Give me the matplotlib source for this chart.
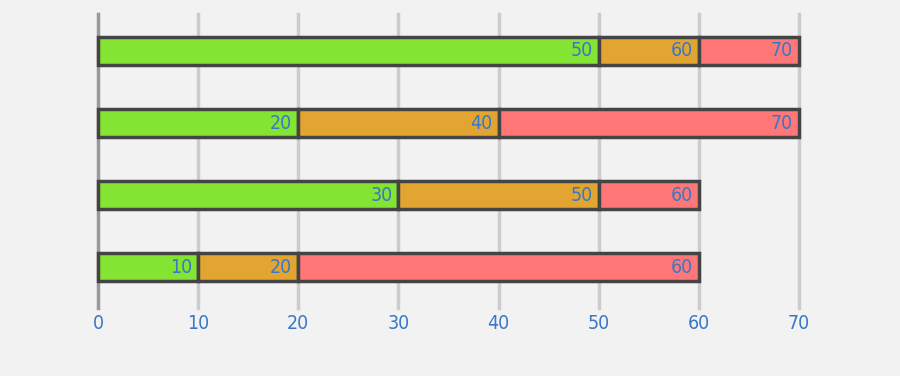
import matplotlib.pyplot as plt
import numpy as np
from matplotlib import font_manager

# cumulative end values of each segment, bottom row first
rows = [0, 1, 2, 3]
first = [10, 30, 20, 50]
second = [20, 50, 40, 60]
third = [60, 60, 70, 70]
colors = ["#84e433", "#e3a532", "#ff7777"]
xticks = [0, 10, 20, 30, 40, 50, 60, 70]

label_color = "#3878c8"
bg = "#f2f2f2"

names = {f.name for f in font_manager.fontManager.ttflist}
font = ["Liberation Sans Narrow"] if "Liberation Sans Narrow" in names else ["DejaVu Sans"]

fig = plt.figure(figsize=(9, 3.76), dpi=100, facecolor=bg)
ax = fig.add_axes([0.1089, 0.1809, 0.7789, 0.7819], facecolor=bg)

starts = [np.zeros(4), np.array(first), np.array(second)]
ends = [np.array(first), np.array(second), np.array(third)]
for s, e, c in zip(starts, ends, colors):
    ax.barh(rows, e - s, left=s, height=0.40, color=c,
            edgecolor="#444444", linewidth=2.5, zorder=3, clip_on=False)
    for y, v in zip(rows, e):
        ax.text(v - 0.6, y, str(v), ha="right", va="center",
                color=label_color, fontsize=14, family=font,
                stretch="condensed", zorder=4)

# vertical grid lines
for x in xticks[1:]:
    ax.axvline(x, color="#cccccc", linewidth=2.5, zorder=1, clip_on=False)

ax.set_xlim(0, 70)
ax.set_ylim(-0.569, 3.514)
ax.set_xticks(xticks)
ax.set_xticklabels([str(t) for t in xticks], family=font, fontsize=14,
                   stretch="condensed", color=label_color)
ax.set_yticks([])
ax.tick_params(axis="x", length=0, pad=4)
for side in ["top", "right", "bottom"]:
    ax.spines[side].set_visible(False)
ax.spines["left"].set_color("#999999")
ax.spines["left"].set_linewidth(2.5)
ax.spines["left"].set_zorder(2)

fig.savefig("out.png", dpi=100, facecolor=bg)
